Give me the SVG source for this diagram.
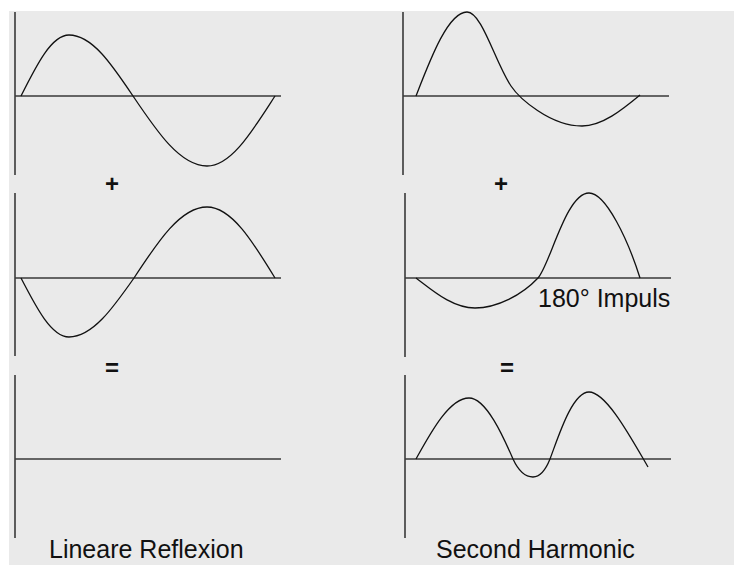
<svg xmlns="http://www.w3.org/2000/svg" width="734" height="565" viewBox="0 0 734 565">
<style>
.axis{stroke:#3a3a3a;stroke-width:1.6;fill:none}
.wave{stroke:#111;stroke-width:1.3;fill:none;stroke-linejoin:round}
.lbl{font-family:"Liberation Sans",Arial,sans-serif;font-size:25px;fill:#111}
.op{font-family:"Liberation Sans",Arial,sans-serif;font-size:24px;font-weight:bold;fill:#111;text-anchor:middle}
</style>
<rect x="0" y="0" width="734" height="565" fill="#ffffff"/>
<rect x="9" y="11" width="725" height="554" fill="#eaeaea"/>
<g id="panel-lin-1">
<path class="axis" d="M15,12 V175 M15,96 H281"/>
<path class="wave" d="M21,96 C36.6,64.8 51.6,35 69,35 C92.2,35 112.1,64.8 133,96 C157.1,131.8 180.2,166 207,166 C231.6,166 252.8,130.2 275,96"/>
</g>
<g id="panel-sh-1">
<path class="axis" d="M403,12 V175 M403,96 H669"/>
<path class="wave" d="M416,96 C430,60 448,12 467,12 C482,12 495,62 511,86 C519,98 550,126 582,126 C602,126 622,110 640,95"/>
</g>
<text class="op" x="112" y="192">+</text>
<text class="op" x="501" y="192">+</text>
<g id="panel-lin-2">
<path class="axis" d="M15,193 V356 M15,278 H281"/>
<path class="wave" d="M21,278 C36.6,308.2 51.6,337 69,337 C92.5,337 112.8,308.2 134,278 C157.8,241.6 180.6,207 207,207 C231.6,207 252.8,241.6 275,278"/>
</g>
<g id="panel-sh-2">
<path class="axis" d="M405,193 V357 M405,278 H671"/>
<path class="wave" d="M416,278 C432,290 452,308 475,308 C497,308 522,295 538,278 C550,265 566,193 589,193 C606,193 628,240 640,278"/>
<text class="lbl" x="538" y="307">180° Impuls</text>
</g>
<text class="op" x="112" y="376">=</text>
<text class="op" x="507" y="376">=</text>
<g id="panel-lin-3">
<path class="axis" d="M15,375 V538 M15,459 H281"/>
</g>
<g id="panel-sh-3">
<path class="axis" d="M405,375 V538 M405,459 H671"/>
<path class="wave" d="M416,459 C432,430 450,398 469,398 C486,398 503,436 513,459 C519,472 526,477 533,477 C540,477 546,469 550,459 C558,438 572,392 589,392 C606,392 630,436 648,467"/>
</g>
<text class="lbl" x="49" y="558">Lineare Reflexion</text>
<text class="lbl" x="436" y="558">Second Harmonic</text>
</svg>
